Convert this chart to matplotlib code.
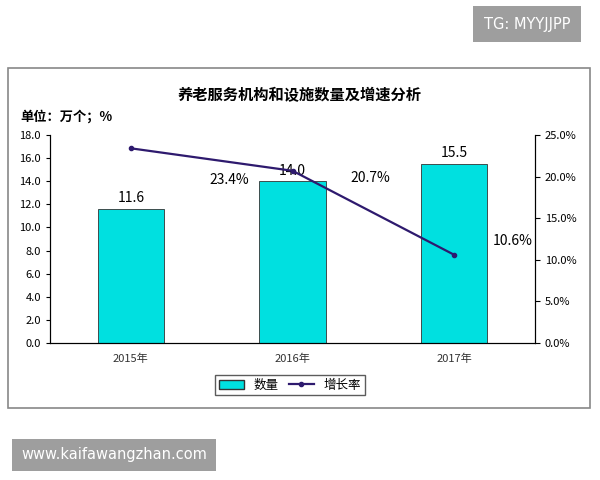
import matplotlib
matplotlib.use("Agg")
import matplotlib.pyplot as plt
from matplotlib.patches import Rectangle
from matplotlib.lines import Line2D

plt.rcParams['font.family'] = ['Noto Sans CJK SC', 'DejaVu Sans']

years = ['2015年', '2016年', '2017年']
counts = [11.6, 14.0, 15.5]
growth = [23.4, 20.7, 10.6]
left_ticks = [0, 2, 4, 6, 8, 10, 12, 14, 16, 18]
right_ticks = [0, 5, 10, 15, 20, 25]

fig = plt.figure(figsize=(6, 4.8), dpi=100)
fig.patch.set_facecolor('white')

fig.add_artist(Rectangle((8/600, 1-408/480), 582/600, 340/480, transform=fig.transFigure,
                         fill=False, edgecolor='#888888', lw=1.2))
fig.text(0.5, 1-95/480, '养老服务机构和设施数量及增速分析', ha='center', va='center',
         fontsize=11, fontweight='bold')
fig.text(20/600, 1-117/480, '单位：万个；%', ha='left', va='center', fontsize=9.5, fontweight='bold')

ax = fig.add_axes([50/600, 1-343/480, 485/600, 208/480])
x = range(len(years))
ax.bar(x, counts, width=0.41, color='#00E0E0', edgecolor='#333333', lw=0.6, zorder=2)
ax.set_xlim(-0.5, 2.5)
ax.set_ylim(0, 18)
ax.set_yticks(left_ticks)
ax.set_yticklabels([f'{v:.1f}' for v in left_ticks], fontsize=8)
ax.set_xticks(list(x))
ax.set_xticklabels(years, fontsize=8, color='#333333')
ax.tick_params(axis='x', length=0, pad=8)
ax.tick_params(axis='y', length=3)
for i, v in enumerate(counts):
    ax.text(i, v + 0.3, f'{v:.1f}', ha='center', va='bottom', fontsize=10)
ax.spines['top'].set_visible(False)

ax2 = ax.twinx()
ax2.plot(list(x), growth, color='#2E1A6E', lw=1.6, marker='o', markersize=3, zorder=3)
ax2.set_ylim(0, 25)
ax2.set_yticks(right_ticks)
ax2.set_yticklabels([f'{v:.1f}%' for v in right_ticks], fontsize=8)
ax2.spines['top'].set_visible(False)
offs = [(0.61, -3.8), (0.48, -0.9), (0.36, 1.7)]
for i, v in enumerate(growth):
    ax2.text(i + offs[i][0], v + offs[i][1], f'{v:.1f}%', ha='center', va='center', fontsize=10)

handles = [Rectangle((0, 0), 1, 1, facecolor='#00E0E0', edgecolor='#333333'),
           Line2D([], [], color='#2E1A6E', marker='o', markersize=3, lw=1.6)]
fig.legend(handles, ['数量', '增长率'], loc='center', bbox_to_anchor=(290/600, 1-385/480),
           ncol=2, fontsize=9, frameon=True, fancybox=False, edgecolor='#333333',
           handlelength=2, columnspacing=0.8, borderpad=0.3)

fig.text(527/600, 1-24/480, 'TG: MYYJJPP', ha='center', va='center', fontsize=10.5, color='white',
         family='DejaVu Sans',
         bbox=dict(boxstyle='square,pad=0.75', facecolor='#9E9E9E', edgecolor='none'))
fig.text(114/600, 1-455/480, 'www.kaifawangzhan.com', ha='center', va='center', fontsize=10.5,
         color='white', family='DejaVu Sans',
         bbox=dict(boxstyle='square,pad=0.6', facecolor='#9E9E9E', edgecolor='none'))

fig.savefig('out.png', dpi=100, facecolor='white')
